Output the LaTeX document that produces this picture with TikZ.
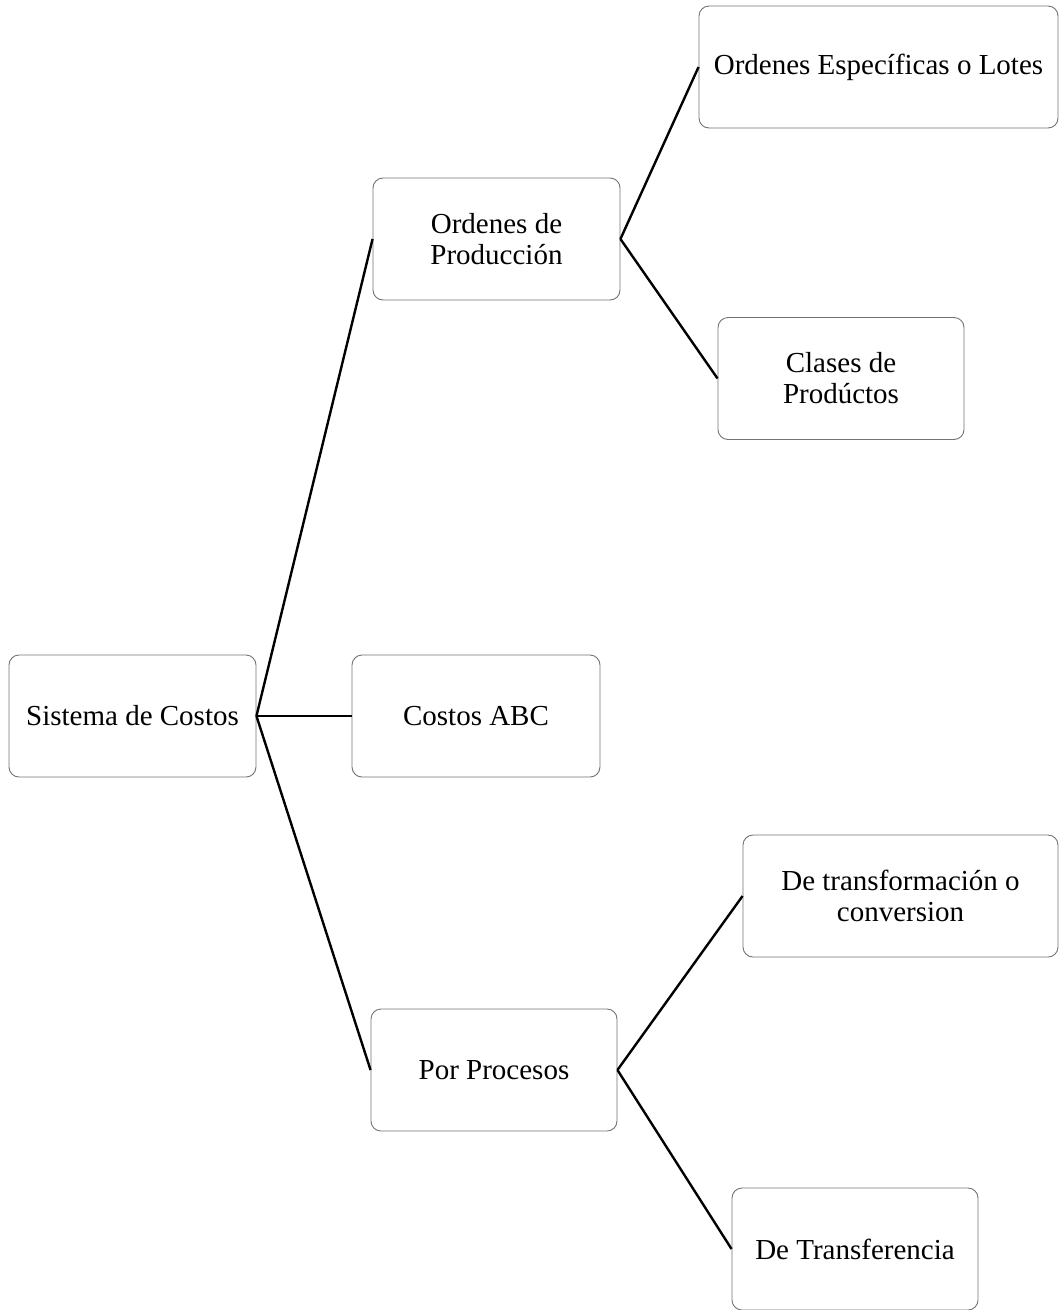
\documentclass[tikz,border=0pt]{standalone}
\usepackage{fontspec}
\setmainfont{Liberation Serif}
\begin{document}
\begin{tikzpicture}[x=1pt,y=-1pt,
  box/.style={draw=black!55, line width=0.9pt, rounded corners=10pt, fill=white,
    inner sep=0pt, align=center, font=\fontsize{29}{31}\selectfont,
    minimum height=122pt},
  link/.style={draw=black, line width=2.4pt}]
  \useasboundingbox (0,0) rectangle (1059,1310);
  % boxes
  \node[box, minimum width=247pt] (sis) at (132.5,716) {Sistema de Costos};
  \node[box, minimum width=247pt] (ord) at (496.5,239) {Ordenes de\\Producción};
  \node[box, minimum width=248pt] (abc) at (476,716) {Costos ABC};
  \node[box, minimum width=246pt] (pro) at (494,1070) {Por Procesos};
  \node[box, minimum width=359pt] (esp) at (878.5,67) {Ordenes Específicas o Lotes};
  \node[box, minimum width=246pt] (cla) at (841,378.5) {Clases de\\Prodúctos};
  \node[box, minimum width=315pt] (tra) at (900.5,896) {De transformación o\\conversion};
  \node[box, minimum width=246pt] (tfe) at (855,1249) {De Transferencia};
  % connectors
  \draw[link] (sis.east) -- (ord.west);
  \draw[link] (sis.east) -- (abc.west);
  \draw[link] (sis.east) -- (pro.west);
  \draw[link] (ord.east) -- (esp.west);
  \draw[link] (ord.east) -- (cla.west);
  \draw[link] (pro.east) -- (tra.west);
  \draw[link] (pro.east) -- (tfe.west);
\end{tikzpicture}
\end{document}
